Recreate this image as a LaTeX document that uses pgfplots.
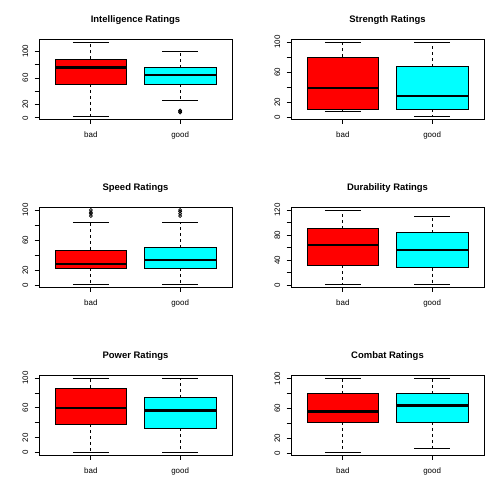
\documentclass[border=0pt]{standalone}
\usepackage{pgfplots}
\pgfplotsset{compat=1.18}
\usepgfplotslibrary{statistics}
\usepackage{fontspec}
\setmainfont{Liberation Sans}
\definecolor{rred}{RGB}{255,0,0}
\definecolor{rcyan}{RGB}{0,255,255}
\pgfplotsset{
  rpanel/.style={
    width=193bp, height=80.5bp, scale only axis,
    anchor=south west,
    xmin=0.42, xmax=2.58,
    xtick={1,2}, xticklabels={bad,good},
    tick align=outside, tick pos=left,
    major tick length=4.5bp,
    tick style={black, line width=0.75bp},
    axis line style={line width=0.75bp},
    ticklabel style={font=\fontsize{8}{9}\selectfont},
    yticklabel style={rotate=90, anchor=south, inner sep=0pt, yshift=6bp},
    xticklabel style={anchor=north, inner sep=0pt, yshift=-8bp},
    title style={font=\bfseries\fontsize{9.5}{11}\selectfont, at={(0.5,1)}, anchor=center, yshift=13bp},
    /pgf/number format/assume math mode=true,
  },
  rbox/.style={
    black, solid, line width=0.75bp,
    mark=o, mark size=1.5bp, mark options={solid, line width=0.75bp, fill=none},
    boxplot/draw direction=y,
    boxplot/box extend=0.8,
    boxplot/whisker extend=0.4,
    boxplot/every box/.style={draw=black, fill=#1, line width=0.75bp},
    boxplot/every median/.style={line width=2.25bp},
    boxplot/draw/lower whisker/.code={%
      \draw[black, line width=0.75bp, dash pattern=on 3bp off 3bp] (boxplot box cs:\pgfplotsboxplotvalue{lower quartile},0.5) -- (boxplot box cs:\pgfplotsboxplotvalue{lower whisker},0.5);
      \draw[black, line width=0.75bp, solid] (boxplot whisker cs:\pgfplotsboxplotvalue{lower whisker},0) -- (boxplot whisker cs:\pgfplotsboxplotvalue{lower whisker},1);
    },
    boxplot/draw/upper whisker/.code={%
      \draw[black, line width=0.75bp, dash pattern=on 3bp off 3bp] (boxplot box cs:\pgfplotsboxplotvalue{upper quartile},0.5) -- (boxplot box cs:\pgfplotsboxplotvalue{upper whisker},0.5);
      \draw[black, line width=0.75bp, solid] (boxplot whisker cs:\pgfplotsboxplotvalue{upper whisker},0) -- (boxplot whisker cs:\pgfplotsboxplotvalue{upper whisker},1);
    },
  },
}
\begin{document}
\begin{tikzpicture}
\useasboundingbox (0,0) rectangle (504bp,504bp);
% Intelligence
\begin{axis}[rpanel, at={(39bp,384.5bp)}, title={Intelligence Ratings},
  ymin=-2.5, ymax=118.5, ytick={0,20,40,60,80,100}, yticklabels={0,20,,60,,100}]
\addplot[rbox=rred, boxplot prepared={draw position=1, lower whisker=2, lower quartile=51, median=75.5, upper quartile=88, upper whisker=114}] coordinates {};
\addplot[rbox=rcyan, boxplot prepared={draw position=2, lower whisker=26, lower quartile=50.5, median=64, upper quartile=75.5, upper whisker=100}] coordinates {(2,8) (2,10) (2,11)};
\end{axis}
% Strength
\begin{axis}[rpanel, at={(291bp,384.5bp)}, title={Strength Ratings},
  ymin=-2.96, ymax=103.96, ytick={0,20,40,60,80,100}, yticklabels={0,20,,60,,100}]
\addplot[rbox=rred, boxplot prepared={draw position=1, lower whisker=7.5, lower quartile=10.5, median=38.5, upper quartile=80, upper whisker=100}] coordinates {};
\addplot[rbox=rcyan, boxplot prepared={draw position=2, lower whisker=1, lower quartile=10.5, median=28.5, upper quartile=67, upper whisker=100}] coordinates {};
\end{axis}
% Speed
\begin{axis}[rpanel, at={(39bp,216.5bp)}, title={Speed Ratings},
  ymin=-2.96, ymax=103.96, ytick={0,20,40,60,80,100}, yticklabels={0,20,,60,,100}]
\addplot[rbox=rred, boxplot prepared={draw position=1, lower whisker=1, lower quartile=23, median=28, upper quartile=47, upper whisker=83}] coordinates {(1,92) (1,95) (1,97) (1,100)};
\addplot[rbox=rcyan, boxplot prepared={draw position=2, lower whisker=1, lower quartile=23, median=33.5, upper quartile=50, upper whisker=84}] coordinates {(2,92) (2,95) (2,98) (2,100)};
\end{axis}
% Durability
\begin{axis}[rpanel, at={(291bp,216.5bp)}, title={Durability Ratings},
  ymin=-3.76, ymax=124.76, ytick={0,20,40,60,80,100,120}, yticklabels={0,,40,,80,,120}]
\addplot[rbox=rred, boxplot prepared={draw position=1, lower whisker=1, lower quartile=32, median=64, upper quartile=90, upper whisker=120}] coordinates {};
\addplot[rbox=rcyan, boxplot prepared={draw position=2, lower whisker=1, lower quartile=28, median=56, upper quartile=84, upper whisker=110}] coordinates {};
\end{axis}
% Power
\begin{axis}[rpanel, at={(39bp,48.5bp)}, title={Power Ratings},
  ymin=-4, ymax=104, ytick={0,20,40,60,80,100}, yticklabels={0,20,,60,,100}]
\addplot[rbox=rred, boxplot prepared={draw position=1, lower whisker=0, lower quartile=38, median=60, upper quartile=86, upper whisker=100}] coordinates {};
\addplot[rbox=rcyan, boxplot prepared={draw position=2, lower whisker=0, lower quartile=32.5, median=56.5, upper quartile=73.5, upper whisker=100}] coordinates {};
\end{axis}
% Combat
\begin{axis}[rpanel, at={(291bp,48.5bp)}, title={Combat Ratings},
  ymin=-3, ymax=105, ytick={0,20,40,60,80,100}, yticklabels={0,20,,60,,100}]
\addplot[rbox=rred, boxplot prepared={draw position=1, lower whisker=1, lower quartile=42, median=56, upper quartile=80, upper whisker=100}] coordinates {};
\addplot[rbox=rcyan, boxplot prepared={draw position=2, lower whisker=7, lower quartile=42, median=64, upper quartile=80, upper whisker=101}] coordinates {};
\end{axis}
\end{tikzpicture}
\end{document}
